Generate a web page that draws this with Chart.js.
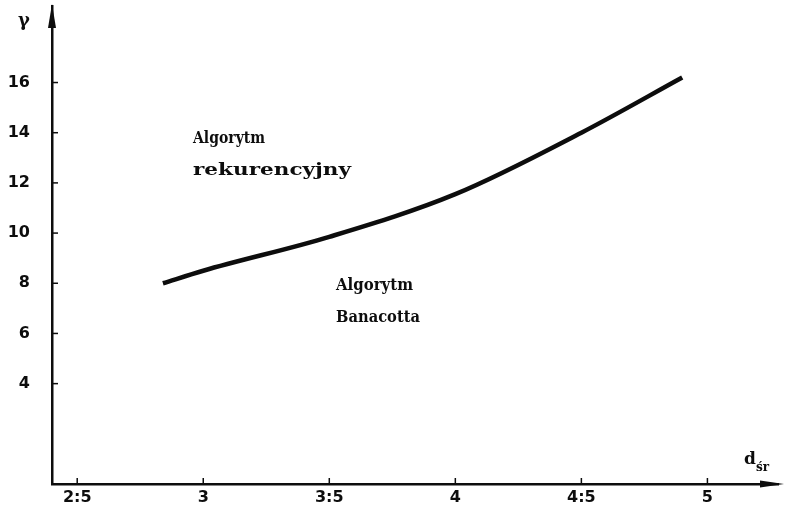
<!DOCTYPE html>
<html>
<head>
<meta charset="utf-8">
<script src="https://cdn.jsdelivr.net/npm/chart.js@4.4.1/dist/chart.umd.min.js"></script>
<style>
  html, body { margin: 0; padding: 0; background: #ffffff; }
  #wrap { width: 792px; height: 511px; position: relative; }
</style>
</head>
<body>
<div id="wrap"><canvas id="c" width="792" height="511"></canvas></div>
<script>
// Mean distance d_śr vs. gamma boundary between the two algorithms
const dValues = [2.84, 3.0, 3.5, 4.0, 4.5, 4.9];
const gammaValues = [8.0, 8.5, 9.85, 11.55, 14.0, 16.2];

const xTickValues = [2.5, 3, 3.5, 4, 4.5, 5];
const xTickLabels = ['2:5', '3', '3:5', '4', '4:5', '5'];
const yTickValues = [4, 6, 8, 10, 12, 14, 16];
const yTickLabels = ['4', '6', '8', '10', '12', '14', '16'];

const regionLabels = [
  { lines: ['Algorytm', 'rekurencyjny'], widths: [72, 158] },
  { lines: ['Algorytm', 'Banacotta'], widths: [77, 84] }
];
const yAxisTitle = 'γ';
const xAxisTitle = 'd';
const xAxisTitleSub = 'śr';

const INK = '#0d0d0d';
const FONT = 'bold 17px "DejaVu Serif", serif';

// Axis arrows, inner tick marks, region captions and axis titles
const decorations = {
  id: 'decorations',
  afterDraw(chart) {
    const { ctx, chartArea: a, scales } = chart;
    const xs = scales.x, ys = scales.y;
    ctx.save();
    ctx.fillStyle = INK;
    ctx.strokeStyle = INK;

    // y arrow
    ctx.beginPath();
    ctx.moveTo(a.left, a.top - 2);
    ctx.lineTo(a.left - 4, a.top + 22);
    ctx.lineTo(a.left + 4, a.top + 22);
    ctx.closePath();
    ctx.fill();
    // x arrow
    ctx.beginPath();
    ctx.moveTo(a.right + 6, a.bottom);
    ctx.lineTo(a.right - 18, a.bottom - 3.5);
    ctx.lineTo(a.right - 18, a.bottom + 3.5);
    ctx.closePath();
    ctx.fill();

    // inner tick marks
    ctx.lineWidth = 1.5;
    yTickValues.forEach(v => {
      const py = ys.getPixelForValue(v);
      ctx.beginPath();
      ctx.moveTo(a.left, py);
      ctx.lineTo(a.left + 6, py);
      ctx.stroke();
    });
    xTickValues.forEach(v => {
      const px = xs.getPixelForValue(v);
      ctx.beginPath();
      ctx.moveTo(px, a.bottom);
      ctx.lineTo(px, a.bottom - 6);
      ctx.stroke();
    });

    // captions, each line stretched to its typed width
    const spots = [
      { x: 193, y: [143, 175] },
      { x: 336, y: [290, 322] }
    ];
    ctx.font = FONT;
    ctx.textBaseline = 'alphabetic';
    ctx.textAlign = 'left';
    regionLabels.forEach((lab, i) => {
      lab.lines.forEach((t, j) => {
        const w = ctx.measureText(t).width;
        ctx.save();
        ctx.translate(spots[i].x, spots[i].y[j]);
        ctx.scale(lab.widths[j] / w, 1);
        ctx.fillText(t, 0, 0);
        ctx.restore();
      });
    });

    // axis titles
    ctx.font = 'bold 18px "DejaVu Serif", serif';
    ctx.textAlign = 'center';
    ctx.fillText(yAxisTitle, 24, 26);
    ctx.font = 'bold 17px "DejaVu Serif", serif';
    ctx.textAlign = 'left';
    ctx.fillText(xAxisTitle, 744, 464);
    ctx.font = 'bold 12px "DejaVu Serif", serif';
    ctx.fillText(xAxisTitleSub, 756, 471);
    ctx.restore();
  }
};

const tickFont = { family: '"DejaVu Sans", sans-serif', size: 16, weight: 'bold' };

new Chart(document.getElementById('c'), {
  type: 'line',
  data: {
    datasets: [{
      data: dValues.map((d, i) => ({ x: d, y: gammaValues[i] })),
      borderColor: INK,
      borderWidth: 4.5,
      pointRadius: 0,
      cubicInterpolationMode: 'monotone',
      fill: false
    }]
  },
  options: {
    responsive: false,
    animation: false,
    devicePixelRatio: 1,
    layout: { padding: { top: 6, right: 14, left: 0, bottom: 0 } },
    plugins: { legend: { display: false }, tooltip: { enabled: false } },
    scales: {
      x: {
        type: 'linear',
        min: 2.4,
        max: 5.28,
        afterFit(s) { s.height = 27; s.paddingLeft = 0; s.paddingRight = 0; },
        afterBuildTicks(s) { s.ticks = xTickValues.map(v => ({ value: v })); },
        grid: { display: false, drawTicks: false },
        border: { display: true, color: INK, width: 2.5 },
        ticks: {
          padding: 4,
          color: INK,
          font: tickFont,
          maxRotation: 0,
          autoSkip: false,
          callback: v => {
            const i = xTickValues.indexOf(v);
            return i >= 0 ? xTickLabels[i] : '';
          }
        }
      },
      y: {
        type: 'linear',
        min: 0,
        max: 19.05,
        afterFit(s) { s.width = 52; s.paddingTop = 0; s.paddingBottom = 0; },
        afterBuildTicks(s) { s.ticks = yTickValues.map(v => ({ value: v })); },
        grid: { display: false, drawTicks: false },
        border: { display: true, color: INK, width: 2.5 },
        ticks: {
          padding: 22,
          color: INK,
          font: tickFont,
          autoSkip: false,
          callback: v => {
            const i = yTickValues.indexOf(v);
            return i >= 0 ? yTickLabels[i] : '';
          }
        }
      }
    }
  },
  plugins: [decorations]
});
</script>
</body>
</html>
